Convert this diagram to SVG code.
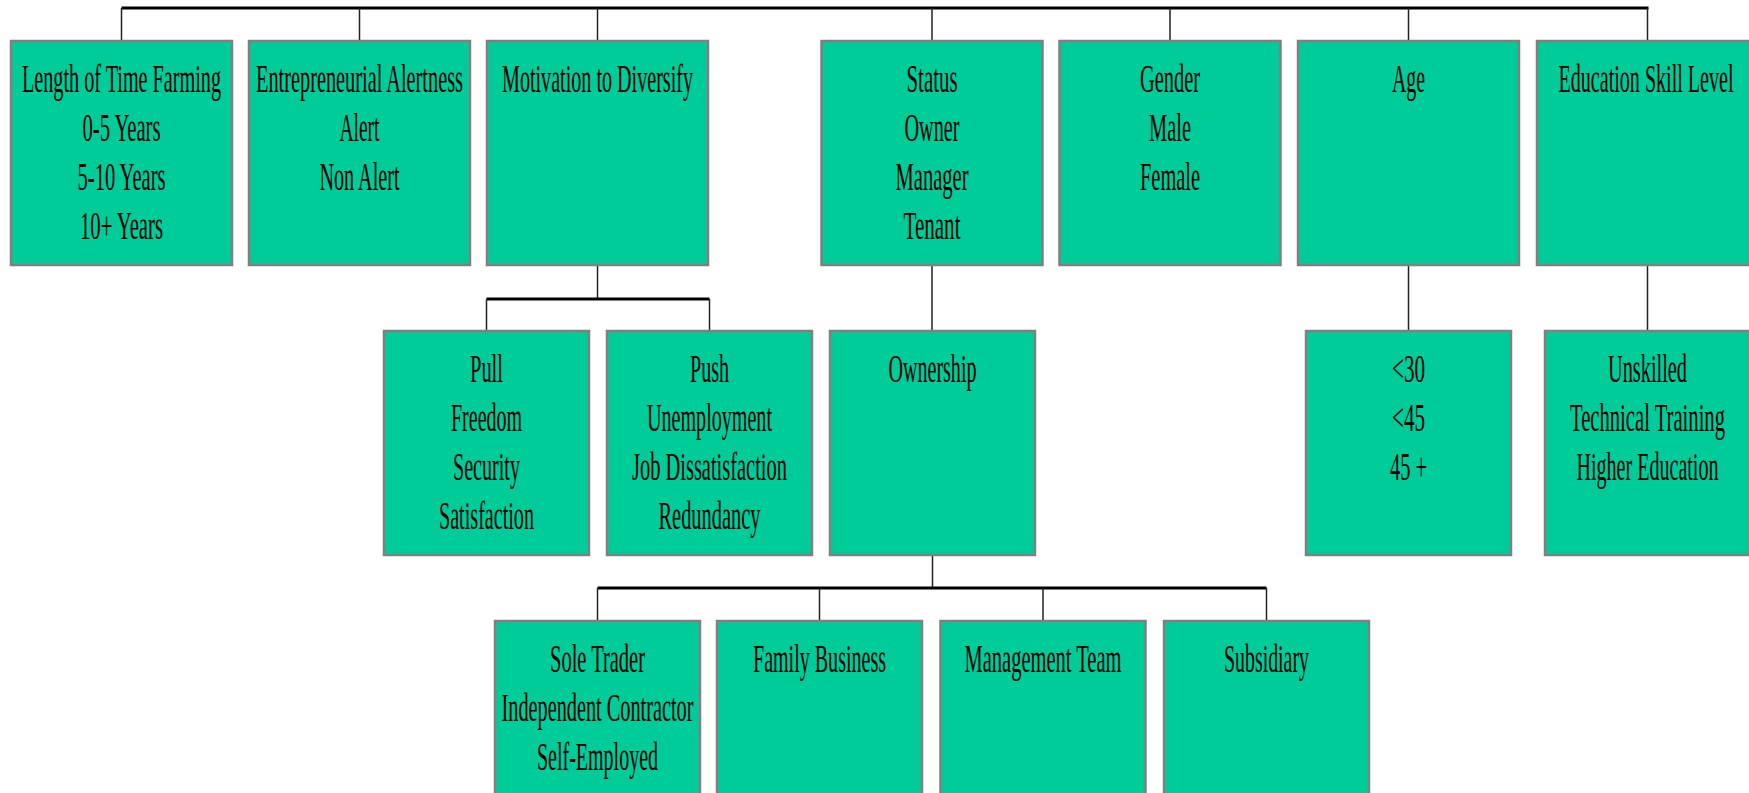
<svg xmlns="http://www.w3.org/2000/svg" width="1749" height="793" viewBox="0 0 1749 793">
<style>
.box{fill:#00CC99;stroke:#808080;stroke-width:2.5}
.t{font-family:"Liberation Serif","Times New Roman",serif;font-size:40px;fill:#000;text-anchor:middle}
.bar{stroke:#000;stroke-width:3;fill:none}
.v{stroke:#222;stroke-width:1.5;fill:none}
</style>
<rect width="1749" height="793" fill="#fff"/>
<g id="connectors">
<line class="bar" x1="121.5" y1="8" x2="1648.5" y2="8"/>
<line class="v" x1="121.5" y1="8" x2="121.5" y2="41"/>
<line class="v" x1="359.5" y1="8" x2="359.5" y2="41"/>
<line class="v" x1="597.5" y1="8" x2="597.5" y2="41"/>
<line class="v" x1="932" y1="8" x2="932" y2="41"/>
<line class="v" x1="1170" y1="8" x2="1170" y2="41"/>
<line class="v" x1="1408.5" y1="8" x2="1408.5" y2="41"/>
<line class="v" x1="1647.5" y1="8" x2="1647.5" y2="41"/>
<line class="v" x1="597.5" y1="265" x2="597.5" y2="299"/>
<line class="bar" x1="486.5" y1="299" x2="709.5" y2="299"/>
<line class="v" x1="486.5" y1="299" x2="486.5" y2="331"/>
<line class="v" x1="709.5" y1="299" x2="709.5" y2="331"/>
<line class="v" x1="932" y1="265" x2="932" y2="331"/>
<line class="v" x1="1408.5" y1="265" x2="1408.5" y2="331"/>
<line class="v" x1="1647.5" y1="265" x2="1647.5" y2="331"/>
<line class="v" x1="932.5" y1="555" x2="932.5" y2="588"/>
<line class="bar" x1="597.5" y1="588" x2="1266.5" y2="588"/>
<line class="v" x1="597.5" y1="588" x2="597.5" y2="621"/>
<line class="v" x1="819.5" y1="588" x2="819.5" y2="621"/>
<line class="v" x1="1043" y1="588" x2="1043" y2="621"/>
<line class="v" x1="1266.5" y1="588" x2="1266.5" y2="621"/>
</g>
<g id="n-length">
<rect class="box" x="11" y="41" width="221" height="224"/>
<text class="t" x="121.5" y="92" textLength="199" lengthAdjust="spacingAndGlyphs">Length of Time Farming</text>
<text class="t" x="121.5" y="141" textLength="78" lengthAdjust="spacingAndGlyphs">0-5 Years</text>
<text class="t" x="121.5" y="190" textLength="88" lengthAdjust="spacingAndGlyphs">5-10 Years</text>
<text class="t" x="121.5" y="239" textLength="83" lengthAdjust="spacingAndGlyphs">10+ Years</text>
</g>
<g id="n-alert">
<rect class="box" x="249" y="41" width="221" height="224"/>
<text class="t" x="359.5" y="92" textLength="207" lengthAdjust="spacingAndGlyphs">Entrepreneurial Alertness</text>
<text class="t" x="359.5" y="141" textLength="40" lengthAdjust="spacingAndGlyphs">Alert</text>
<text class="t" x="359.5" y="190" textLength="80" lengthAdjust="spacingAndGlyphs">Non Alert</text>
</g>
<g id="n-motivation">
<rect class="box" x="487" y="41" width="221" height="224"/>
<text class="t" x="597.5" y="92" textLength="191" lengthAdjust="spacingAndGlyphs">Motivation to Diversify</text>
</g>
<g id="n-status">
<rect class="box" x="821.5" y="41" width="221" height="224"/>
<text class="t" x="932" y="92" textLength="51" lengthAdjust="spacingAndGlyphs">Status</text>
<text class="t" x="932" y="141" textLength="55" lengthAdjust="spacingAndGlyphs">Owner</text>
<text class="t" x="932" y="190" textLength="73" lengthAdjust="spacingAndGlyphs">Manager</text>
<text class="t" x="932" y="239" textLength="57" lengthAdjust="spacingAndGlyphs">Tenant</text>
</g>
<g id="n-gender">
<rect class="box" x="1059.5" y="41" width="221" height="224"/>
<text class="t" x="1170" y="92" textLength="60" lengthAdjust="spacingAndGlyphs">Gender</text>
<text class="t" x="1170" y="141" textLength="42" lengthAdjust="spacingAndGlyphs">Male</text>
<text class="t" x="1170" y="190" textLength="60" lengthAdjust="spacingAndGlyphs">Female</text>
</g>
<g id="n-age">
<rect class="box" x="1298" y="41" width="221" height="224"/>
<text class="t" x="1408.5" y="92" textLength="33" lengthAdjust="spacingAndGlyphs">Age</text>
</g>
<g id="n-education">
<rect class="box" x="1537" y="41" width="221" height="224"/>
<text class="t" x="1646" y="92" textLength="175" lengthAdjust="spacingAndGlyphs">Education Skill Level</text>
</g>
<g id="n-pull">
<rect class="box" x="384" y="331" width="205" height="224"/>
<text class="t" x="486.5" y="382" textLength="33" lengthAdjust="spacingAndGlyphs">Pull</text>
<text class="t" x="486.5" y="431" textLength="71" lengthAdjust="spacingAndGlyphs">Freedom</text>
<text class="t" x="486.5" y="480" textLength="67" lengthAdjust="spacingAndGlyphs">Security</text>
<text class="t" x="486.5" y="529" textLength="95" lengthAdjust="spacingAndGlyphs">Satisfaction</text>
</g>
<g id="n-push">
<rect class="box" x="607" y="331" width="205" height="224"/>
<text class="t" x="709.5" y="382" textLength="39" lengthAdjust="spacingAndGlyphs">Push</text>
<text class="t" x="709.5" y="431" textLength="125" lengthAdjust="spacingAndGlyphs">Unemployment</text>
<text class="t" x="709.5" y="480" textLength="155" lengthAdjust="spacingAndGlyphs">Job Dissatisfaction</text>
<text class="t" x="709.5" y="529" textLength="102" lengthAdjust="spacingAndGlyphs">Redundancy</text>
</g>
<g id="n-ownership">
<rect class="box" x="830" y="331" width="205" height="224"/>
<text class="t" x="932.5" y="382" textLength="88" lengthAdjust="spacingAndGlyphs">Ownership</text>
</g>
<g id="n-agegroups">
<rect class="box" x="1306" y="331" width="205" height="224"/>
<text class="t" x="1408.5" y="382" textLength="33" lengthAdjust="spacingAndGlyphs">&lt;30</text>
<text class="t" x="1408.5" y="431" textLength="33" lengthAdjust="spacingAndGlyphs">&lt;45</text>
<text class="t" x="1408.5" y="480" textLength="37" lengthAdjust="spacingAndGlyphs">45 +</text>
</g>
<g id="n-skills">
<rect class="box" x="1545" y="331" width="205" height="224"/>
<text class="t" x="1647.5" y="382" textLength="79" lengthAdjust="spacingAndGlyphs">Unskilled</text>
<text class="t" x="1647.5" y="431" textLength="155" lengthAdjust="spacingAndGlyphs">Technical Training</text>
<text class="t" x="1647.5" y="480" textLength="142" lengthAdjust="spacingAndGlyphs">Higher Education</text>
</g>
<g id="n-soletrader">
<rect class="box" x="495" y="621" width="205" height="224"/>
<text class="t" x="597.5" y="672" textLength="95" lengthAdjust="spacingAndGlyphs">Sole Trader</text>
<text class="t" x="597.5" y="721" textLength="192" lengthAdjust="spacingAndGlyphs">Independent Contractor</text>
<text class="t" x="597.5" y="770" textLength="121" lengthAdjust="spacingAndGlyphs">Self-Employed</text>
</g>
<g id="n-family">
<rect class="box" x="717" y="621" width="205" height="224"/>
<text class="t" x="819.5" y="672" textLength="133" lengthAdjust="spacingAndGlyphs">Family Business</text>
</g>
<g id="n-management">
<rect class="box" x="940.5" y="621" width="205" height="224"/>
<text class="t" x="1043" y="672" textLength="157" lengthAdjust="spacingAndGlyphs">Management Team</text>
</g>
<g id="n-subsidiary">
<rect class="box" x="1164" y="621" width="205" height="224"/>
<text class="t" x="1266.5" y="672" textLength="85" lengthAdjust="spacingAndGlyphs">Subsidiary</text>
</g>
</svg>
